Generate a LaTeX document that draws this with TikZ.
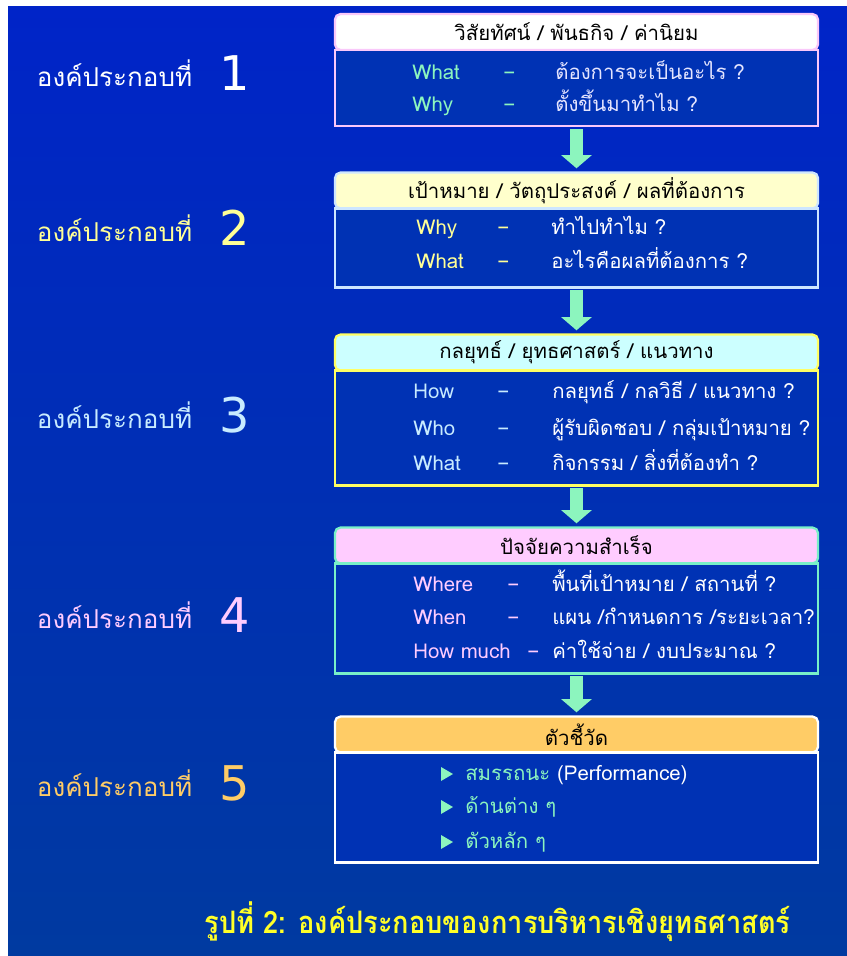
\documentclass[tikz,border=0pt]{standalone}
\usepackage{fontspec}
\setmainfont{Loma}[Script=Thai]
\newfontfamily\numfont{DejaVu Sans}
\usetikzlibrary{positioning,arrows.meta}

\definecolor{bgtop}{RGB}{0,36,200}
\definecolor{bgbot}{RGB}{0,58,160}
\definecolor{bodyblue}{RGB}{0,50,180}
\definecolor{mint}{RGB}{140,245,190}
\definecolor{lpink}{RGB}{250,200,250}
\definecolor{hpink}{RGB}{255,204,255}
\definecolor{lyellow}{RGB}{255,255,204}
\definecolor{kyellow}{RGB}{255,255,150}
\definecolor{lcyan}{RGB}{204,255,255}
\definecolor{kcyan}{RGB}{200,235,255}
\definecolor{lorange}{RGB}{255,204,102}
\definecolor{yborder}{RGB}{255,255,100}
\definecolor{bborder}{RGB}{205,230,255}
\definecolor{gborder}{RGB}{120,240,200}
\definecolor{capyellow}{RGB}{255,255,40}

\begin{document}
\begin{tikzpicture}[x=0.025cm, y=-0.025cm, font=\fontsize{14.5}{16}\selectfont,
    hdr/.style 2 args={draw=#1, fill=#2, line width=1.6pt, rounded corners=4pt,
        minimum width=12.075cm, minimum height=0.9cm, outer sep=0pt, text=black},
    bodybox/.style={draw=#1, fill=bodyblue, line width=1.6pt,
        minimum width=12.075cm, outer sep=0pt},
    rowtxt/.style={anchor=west, inner sep=0pt, text height=12pt, text depth=3pt, text=#1},
    dashtxt/.style={rowtxt=#1, font=\numfont\fontsize{17}{18}\selectfont},
    partlbl/.style={anchor=west, font=\fontsize{18.5}{20}\selectfont, text=#1},
    partnum/.style={font=\numfont\fontsize{34}{36}\selectfont, text=#1},
    downarrow/.style={draw=mint, line width=0.33cm,
        -{Triangle[width=0.75cm,length=0.33cm]}, shorten <=2pt, shorten >=3pt}]

    % background
    \fill[white] (0,0) rectangle (847,956);
    \shade[top color=bgtop, bottom color=bgbot] (8,6) rectangle (847,956);

    % headers and bodies
    \node[hdr={lpink}{white}] (h1) at (576.5,32) {วิสัยทัศน์ / พันธกิจ / ค่านิยม};
    \node[bodybox=lpink, minimum height=1.9cm, below=0pt of h1] (b1) {};

    \node[hdr={bborder}{lyellow}] (h2) at (576.5,190.5) {เป้าหมาย / วัตถุประสงค์ / ผลที่ต้องการ};
    \node[bodybox=bborder, minimum height=1.975cm, below=0pt of h2] (b2) {};

    \node[hdr={yborder}{lcyan}] (h3) at (576.5,352.5) {กลยุทธ์ / ยุทธศาสตร์ / แนวทาง};
    \node[bodybox=yborder, minimum height=2.875cm, below=0pt of h3] (b3) {};

    \node[hdr={gborder}{hpink}] (h4) at (576.5,545.5) {ปัจจัยความสำเร็จ};
    \node[bodybox=gborder, minimum height=2.75cm, below=0pt of h4] (b4) {};

    \node[hdr={white}{lorange}] (h5) at (576.5,734.5) {ตัวชี้วัด};
    \node[bodybox=white, minimum height=2.75cm, below=0pt of h5] (b5) {};

    % arrows between parts
    \foreach \i/\j in {1/2,2/3,3/4,4/5}
        \draw[downarrow] (b\i) -- (h\j);

    % rows of each part
    \foreach \y/\k/\d/\t in {73/What/503/{ต้องการจะเป็นอะไร ?},105/Why/503/{ตั้งขึ้นมาทำไม ?}} {
        \node[rowtxt=mint] at (412,\y) {\k};
        \node[dashtxt=mint] at (\d,\y) {–};
        \node[rowtxt=white!90!blue] at (555,\y) {\t};
    }
    \foreach \y/\k/\t in {228/Why/{ทำไปทำไม ?},262/What/{อะไรคือผลที่ต้องการ ?}} {
        \node[rowtxt=kyellow] at (416,\y) {\k};
        \node[dashtxt=kyellow] at (497,\y) {–};
        \node[rowtxt=white] at (551,\y) {\t};
    }
    \foreach \y/\k/\t in {392/How/{กลยุทธ์ / กลวิธี / แนวทาง ?},429/Who/{ผู้รับผิดชอบ / กลุ่มเป้าหมาย ?},464/What/{กิจกรรม / สิ่งที่ต้องทำ ?}} {
        \node[rowtxt=kcyan] at (413,\y) {\k};
        \node[dashtxt=kcyan] at (497,\y) {–};
        \node[rowtxt=white] at (552,\y) {\t};
    }
    \foreach \y/\k/\d/\t in {585/Where/507/{พื้นที่เป้าหมาย / สถานที่ ?},618/When/507/{แผน /กำหนดการ /ระยะเวลา?},652/How much/527/{ค่าใช้จ่าย / งบประมาณ ?}} {
        \node[rowtxt=hpink] at (413,\y) {\k};
        \node[dashtxt=hpink] at (\d,\y) {–};
        \node[rowtxt=white] at (552,\y) {\t};
    }
    \foreach \y/\t in {774/{สมรรถนะ \textcolor{white}{(Performance)}},807/{ด้านต่าง ๆ},842/{ตัวหลัก ๆ}} {
        \fill[mint] (441,\y-7) -- (453,\y) -- (441,\y+7) -- cycle;
        \node[rowtxt=mint] at (465,\y) {\t};
    }

    % part labels on the left
    \foreach \n/\y/\c in {1/73/white,2/228/kyellow,3/415/kcyan,4/615/hpink,5/783/lorange} {
        \node[partlbl=\c] (lbl\n) at (32,\y) {องค์ประกอบที่};
        \node[partnum=\c] (num\n) at (235,\y) {\n};
    }

    % caption
    \node[text=capyellow, font=\bfseries\fontsize{22}{24}\selectfont] (cap) at (497.5,922)
        {\scalebox{0.88}[1]{รูปที่ 2: องค์ประกอบของการบริหารเชิงยุทธศาสตร์}};
\end{tikzpicture}
\end{document}
